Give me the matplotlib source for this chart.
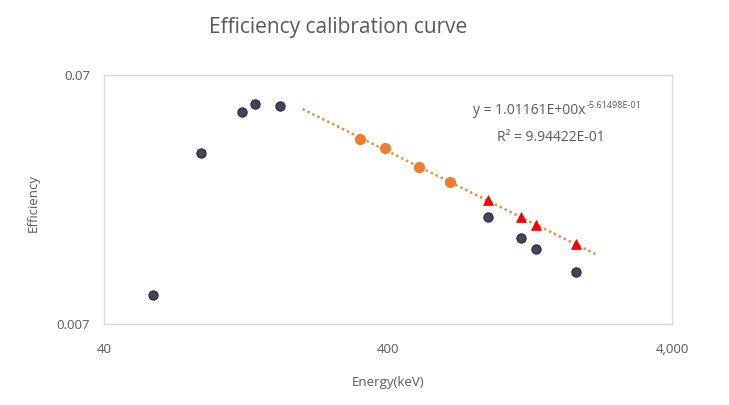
# Efficiency calibration curve (log-log)

import numpy as np
import matplotlib
matplotlib.use('Agg')
from matplotlib import pyplot as plt
from matplotlib.ticker import FixedLocator, NullLocator

plt.rcParams['font.family'] = ['Open Sans', 'DejaVu Sans']

## Data ---------
# measured points (dark)
meas_energy = [59.5, 88, 122, 136, 166, 898, 1173, 1332, 1836]
meas_eff = [0.00913, 0.0339, 0.0497, 0.0535, 0.0527, 0.0188, 0.01555, 0.01404, 0.01135]

# reference points used for the fit (orange)
ref_energy = [320, 392, 514, 662]
ref_eff = [0.0389, 0.0355, 0.0299, 0.0260]

# corrected points (red triangles)
corr_energy = [898, 1173, 1332, 1836]
corr_eff = [0.0220, 0.01878, 0.01754, 0.01467]

# power trendline, endpoints
trend_energy = [200, 2150]
trend_eff = [0.0511, 0.01337]

x_ticks = [40, 400, 4000]
x_tick_labels = ['40', '400', '4,000']
y_ticks = [0.007, 0.07]
y_tick_labels = ['0.007', '0.07']

text_color = '#595959'

fig = plt.figure(figsize=(7.29, 4.05), dpi=100)
ax = fig.add_axes([0.1427, 0.2, 0.779, 0.6148])

ax.plot(trend_energy, trend_eff, linestyle=(0, (1, 1.2)), color='#E0913F', linewidth=1.8, zorder=1)
ax.scatter(meas_energy, meas_eff, s=44, color='#414756', edgecolors='#262a33', linewidths=0.8, zorder=3)
ax.scatter(ref_energy, ref_eff, s=50, color='#ED7D31', edgecolors='#ED7D31', zorder=3)
ax.scatter(corr_energy, corr_eff, s=50, marker='^', color='#FF0000', edgecolors='#D00000', linewidths=0.5, zorder=4)

ax.set_xscale('log')
ax.set_yscale('log')
ax.set_xlim(40, 4000)
ax.set_ylim(0.007, 0.07)

ax.xaxis.set_major_locator(FixedLocator(x_ticks))
ax.xaxis.set_minor_locator(NullLocator())
ax.set_xticklabels(x_tick_labels)
ax.yaxis.set_major_locator(FixedLocator(y_ticks))
ax.yaxis.set_minor_locator(NullLocator())
ax.set_yticklabels(y_tick_labels)
ax.tick_params(axis='x', length=0, pad=14, labelsize=9.5, labelcolor=text_color)
ax.tick_params(axis='y', length=0, pad=10, labelsize=9.5, labelcolor=text_color)

for side in ax.spines.values():
    side.set_color('#D9D9D9')
    side.set_linewidth(1.0)

ax.set_xlabel('Energy(keV)', fontsize=9.5, color=text_color, labelpad=14)
fig.text(33 / 729, 0.5, 'Efficiency', rotation=90, ha='center', va='center',
         fontsize=9.5, color=text_color)

fig.text(338 / 729, 1 - 28 / 405, 'Efficiency calibration curve', ha='center', va='center',
         fontsize=15, color=text_color)

# trendline label, exponent as a separate small text
eq = fig.text(473 / 729, 1 - 110 / 405, 'y = 1.01161E+00x', ha='left', va='center',
              fontsize=10, color=text_color)
fig.canvas.draw()
bb = eq.get_window_extent(renderer=fig.canvas.get_renderer())
fig.text((bb.x1 + 1) / 729, (bb.y1 - 3) / 405, '-5.61498E-01', ha='left', va='center',
         fontsize=6.5, color=text_color)
fig.text(497 / 729, 1 - 137 / 405, 'R² = 9.94422E-01', ha='left', va='center',
         fontsize=10, color=text_color)

plt.savefig('out.png', dpi=100, facecolor='white')
